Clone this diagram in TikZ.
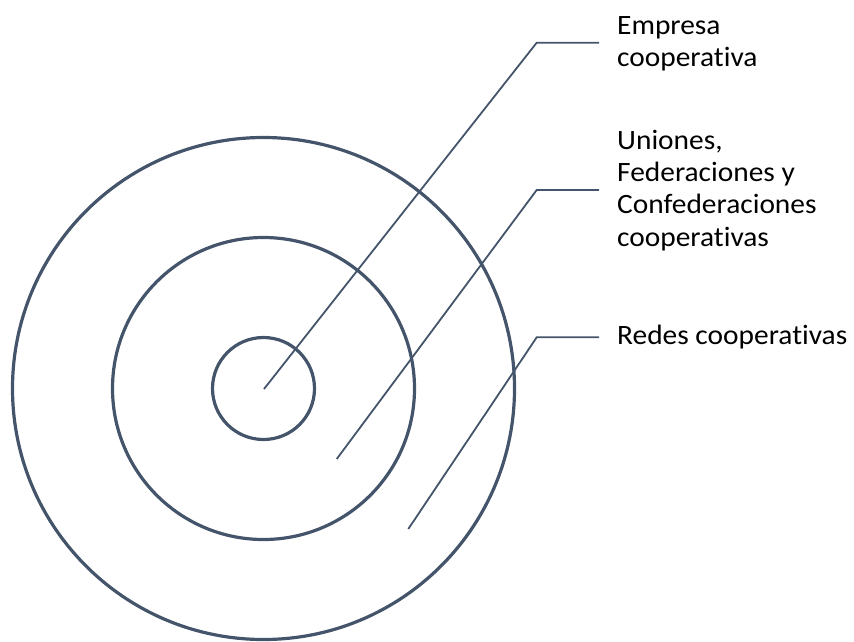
\documentclass[tikz,border=0pt]{standalone}
\usepackage{fontspec}
\setmainfont{Carlito}[FakeStretch=1.05, Ligatures=NoCommon]
\definecolor{slate}{HTML}{44546A}
\begin{document}
\begin{tikzpicture}[x=1pt,y=-1pt,
  ring/.style={draw=slate, line width=3.2pt, circle, inner sep=0pt},
  leader/.style={draw=slate, line width=1.8pt},
  label/.style={anchor=base west, align=left, inner sep=0pt, text=black,
    font=\fontsize{28}{32.3}\selectfont}]
  \useasboundingbox (0,0) rectangle (854,641);
  % concentric rings
  \coordinate (c) at (263.5,388.5);
  \node[ring, minimum size=502pt] (outer) at (c) {};
  \node[ring, minimum size=302pt] (middle) at (c) {};
  \node[ring, minimum size=102pt] (inner) at (c) {};
  % leader line anchor points
  \coordinate (t1) at (264,389);
  \coordinate (e1) at (536.7,42.7);
  \coordinate (h1) at (599,42.7);
  \coordinate (t2) at (336.7,459);
  \coordinate (e2) at (536.7,190);
  \coordinate (h2) at (599,190);
  \coordinate (t3) at (408.3,529);
  \coordinate (e3) at (536.7,337.3);
  \coordinate (h3) at (599,337.3);
  % labels (anchored on the baseline of their last line)
  \node[label] (l1) at (617,66.7) {Empresa\\cooperativa};
  \node[label] (l2) at (617,246) {Uniones,\\Federaciones y\\Confederaciones\\cooperativas};
  \node[label] (l3) at (617,344) {Redes cooperativas};
  % leaders
  \draw[leader] (t1) -- (e1) -- (h1);
  \draw[leader] (t2) -- (e2) -- (h2);
  \draw[leader] (t3) -- (e3) -- (h3);
\end{tikzpicture}
\end{document}
